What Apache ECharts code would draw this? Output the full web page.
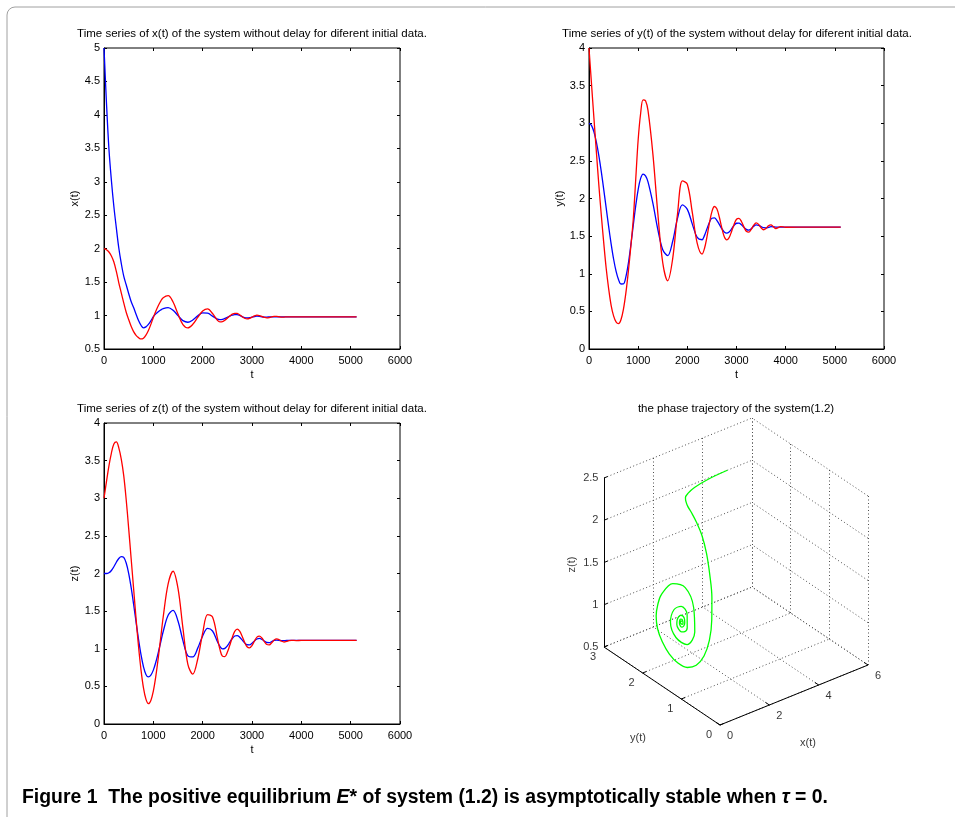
<!DOCTYPE html>
<html><head><meta charset="utf-8">
<script src="https://cdn.jsdelivr.net/npm/echarts@6/dist/echarts.min.js"></script>
<style>html,body{margin:0;padding:0;background:#fff}#c{width:955px;height:817px}</style>
</head><body><div id="c"></div>
<script>
// ---- data ----
const T = [0,50,100,150,200,250,300,350,400,450,500,550,600,650,700,750,800,850,900,950,1000,1050,1100,1150,1200,
  1300,1400,1500,1600,1700,1800,1900,2000,2100,2200,2300,
  2350,2400,2450,2500,2550,2600,2650,2700,2750,2800,2850,2900,2950,3000,3050,3100,3150,3200,3250,3300,3350,3400,3450,3500,3550,3600,3650,3700,3750,3800,
  3900,4000,4500,5120];

const xRed = [2.0,1.985,1.95,1.89,1.80,1.66,1.49,1.34,1.19,1.05,0.94,0.84,0.76,0.705,0.67,0.65,0.662,0.706,0.776,0.868,0.972,1.065,1.147,1.217,1.267,
  1.298,1.202,1.023,0.865,0.816,0.869,0.972,1.067,1.10,1.031,0.928,
  0.906,0.910,0.930,0.961,0.994,1.021,1.034,1.031,1.011,0.983,0.960,0.950,0.957,0.976,0.995,1.005,1.0,0.987,0.973,0.965,0.970,0.980,0.989,0.988,0.982,0.977,0.978,0.981,0.980,0.979,
  0.98,0.98,0.98,0.98];
const xBlue = [5.0,4.18,3.49,3.02,2.63,2.31,2.01,1.78,1.59,1.46,1.33,1.21,1.12,1.02,0.925,0.855,0.817,0.831,0.868,0.92,0.983,1.025,1.057,1.084,1.105,
  1.12,1.08,0.999,0.924,0.90,0.934,0.995,1.04,1.036,0.991,0.947,
  0.94,0.944,0.957,0.974,0.992,1.006,1.014,1.013,1.001,0.984,0.970,0.965,0.968,0.977,0.986,0.99,0.988,0.982,0.978,0.977,0.979,0.981,0.981,0.98,0.98,0.98,0.98,0.98,0.98,0.98,
  0.98,0.98,0.98,0.98];
const yRed = [4.0,3.53,3.07,2.62,2.18,1.78,1.41,1.07,0.80,0.58,0.44,0.36,0.336,0.388,0.527,0.745,1.028,1.359,1.72,2.25,2.78,3.13,3.31,3.30,3.17,
  2.587,1.80,1.146,0.907,1.192,1.794,2.233,2.19,1.819,1.408,1.262,
  1.339,1.493,1.676,1.825,1.894,1.863,1.754,1.612,1.495,1.45,1.481,1.562,1.656,1.724,1.737,1.695,1.623,1.564,1.552,1.590,1.645,1.675,1.656,1.612,1.585,1.601,1.637,1.65,1.626,1.601,
  1.625,1.618,1.62,1.62];
const yBlue = [3.0,2.971,2.886,2.75,2.571,2.357,2.119,1.871,1.626,1.398,1.196,1.036,0.924,0.864,0.865,0.959,1.136,1.375,1.641,1.901,2.119,2.268,2.325,2.30,2.221,
  1.936,1.588,1.32,1.242,1.425,1.735,1.916,1.855,1.663,1.483,1.452,
  1.51,1.599,1.685,1.738,1.742,1.71,1.657,1.60,1.556,1.54,1.556,1.596,1.641,1.671,1.673,1.65,1.617,1.59,1.58,1.599,1.631,1.65,1.643,1.627,1.612,1.61,1.616,1.625,1.624,1.62,
  1.62,1.62,1.62,1.62];
const zRed = [3.0,3.22,3.43,3.6,3.72,3.748,3.67,3.52,3.3,2.98,2.6,2.2,1.8,1.4,1.03,0.72,0.48,0.33,0.27,0.313,0.438,0.633,0.878,1.15,1.422,
  1.862,2.03,1.802,1.274,0.792,0.663,0.864,1.206,1.453,1.423,1.136,
  0.991,0.902,0.896,0.952,1.047,1.15,1.23,1.26,1.234,1.167,1.087,1.027,1.011,1.043,1.103,1.155,1.169,1.143,1.095,1.057,1.052,1.08,1.115,1.13,1.12,1.10,1.09,1.098,1.108,1.112,
  1.109,1.11,1.11,1.11];
const zBlue = [2.0,2.0,2.01,2.04,2.09,2.15,2.2,2.225,2.214,2.14,2.003,1.815,1.592,1.355,1.125,0.921,0.761,0.659,0.625,0.649,0.716,0.82,0.949,1.09,1.229,
  1.445,1.51,1.369,1.108,0.906,0.891,1.008,1.17,1.27,1.236,1.093,
  1.03,0.998,1.005,1.039,1.088,1.136,1.169,1.175,1.154,1.117,1.078,1.053,1.052,1.073,1.104,1.129,1.137,1.125,1.102,1.083,1.081,1.095,1.11,1.115,1.112,1.107,1.108,1.11,1.11,1.11,
  1.11,1.11,1.11,1.11];

const phaseXTicks = [0, 2, 4, 6];
const phaseYTicks = [0, 1, 2, 3];
const phaseZTicks = [0.5, 1, 1.5, 2, 2.5];

const titles = [
  'Time series of x(t) of the system without delay for diferent initial data.',
  'Time series of y(t) of the system without delay for diferent initial data.',
  'Time series of z(t) of the system without delay for diferent initial data.',
  'the phase trajectory of the system(1.2)'
];
const yNames = ['x(t)', 'y(t)', 'z(t)'];

// ---- layout / style ----
const FONT = "'Liberation Sans', Arial, Helvetica, sans-serif";
const RED = '#ff0000', BLUE = '#0000ff', GREEN = '#00ff00';
const grids2d = [
  {left:104, top:48, width:296, height:301},
  {left:589, top:48, width:295, height:301},
  {left:104, top:423, width:296, height:301}
];
const yRanges = [{min:0.5, max:5}, {min:0, max:4}, {min:0, max:4}];
const G4 = {left:540, top:400, width:400, height:360};
// projection of the 3-D box (pixel units inside grid 4)
const ORIGIN = [180, 325];
const UX = [24.67, -10], UY = [-38.67, -26], UZ = [0, -84.5];
const X0 = phaseXTicks[0], X1 = phaseXTicks[phaseXTicks.length-1];
const Y0 = phaseYTicks[0], Y1 = phaseYTicks[phaseYTicks.length-1];
const Z0 = phaseZTicks[0], Z1 = phaseZTicks[phaseZTicks.length-1];
function proj(x, y, z) {
  return [ORIGIN[0] + UX[0]*x + UY[0]*y + UZ[0]*(z - Z0),
          ORIGIN[1] + UX[1]*x + UY[1]*y + UZ[1]*(z - Z0)];
}
function add(p, d) { return [p[0] + d[0], p[1] + d[1]]; }

const axisText = {color:'#000', fontSize:11, fontFamily:FONT};
const fmt = v => String(v);
const grid = [], xAxis = [], yAxis = [], series = [];
grids2d.forEach((g, i) => {
  grid.push(Object.assign({show:true, borderColor:'#000', borderWidth:1, backgroundColor:'#fff'}, g));
  const tick = () => ({show:true, inside:true, length:3, lineStyle:{color:'#000', width:1}});
  xAxis.push({gridIndex:i, type:'value', min:0, max:6000, interval:1000, position:'bottom',
    name:'t', nameLocation:'middle', nameGap:20, nameTextStyle:axisText,
    axisLine:{show:true, onZero:false, lineStyle:{color:'#000', width:1}}, axisTick:tick(),
    axisLabel:Object.assign({margin:6, formatter:fmt}, axisText), splitLine:{show:false}});
  xAxis.push({gridIndex:i, type:'value', min:0, max:6000, interval:1000, position:'top',
    axisLine:{show:false, onZero:false}, axisTick:tick(), axisLabel:{show:false}, splitLine:{show:false}});
  yAxis.push({gridIndex:i, type:'value', min:yRanges[i].min, max:yRanges[i].max, interval:0.5, position:'left',
    name:yNames[i], nameLocation:'middle', nameGap:24, nameRotate:90, nameTextStyle:axisText,
    axisLine:{show:true, onZero:false, lineStyle:{color:'#000', width:1}}, axisTick:tick(),
    axisLabel:Object.assign({margin:4, formatter:fmt}, axisText), splitLine:{show:false}});
  yAxis.push({gridIndex:i, type:'value', min:yRanges[i].min, max:yRanges[i].max, interval:0.5, position:'right',
    axisLine:{show:false, onZero:false}, axisTick:tick(), axisLabel:{show:false}, splitLine:{show:false}});
});
grid.push(Object.assign({show:false}, G4));
xAxis.push({gridIndex:3, type:'value', min:0, max:G4.width, show:false});
yAxis.push({gridIndex:3, type:'value', min:0, max:G4.height, inverse:true, show:false});

const pairs = [[xBlue, xRed], [yBlue, yRed], [zBlue, zRed]];
pairs.forEach((p, i) => {
  [[p[0], BLUE], [p[1], RED]].forEach(([arr, col]) => {
    series.push({type:'line', xAxisIndex:2*i, yAxisIndex:2*i, data:T.map((t, k) => [t, arr[k]]),
      smooth:0.35, showSymbol:false, symbol:'none', silent:true, animation:false,
      lineStyle:{color:col, width:1.3}, itemStyle:{color:col}});
  });
});

// 3-D box grid lines
const gridSegs = [];
phaseXTicks.forEach(x => { gridSegs.push([proj(x,Y0,Z0), proj(x,Y1,Z0)]); gridSegs.push([proj(x,Y1,Z0), proj(x,Y1,Z1)]); });
phaseYTicks.forEach(y => { gridSegs.push([proj(X0,y,Z0), proj(X1,y,Z0)]); gridSegs.push([proj(X1,y,Z0), proj(X1,y,Z1)]); });
phaseZTicks.forEach(z => { gridSegs.push([proj(X0,Y1,z), proj(X1,Y1,z)]); gridSegs.push([proj(X1,Y0,z), proj(X1,Y1,z)]); });
series.push({type:'lines', coordinateSystem:'cartesian2d', xAxisIndex:6, yAxisIndex:6, silent:true, animation:false,
  data:gridSegs.map(s => ({coords:s})), lineStyle:{color:'#505050', width:1, type:[1,2.5], opacity:1}});
// solid axes + ticks
const axisSegs = [
  [proj(X0,Y1,Z0), proj(X0,Y1,Z1)],
  [proj(X0,Y0,Z0), proj(X0,Y1,Z0)],
  [proj(X0,Y0,Z0), proj(X1,Y0,Z0)]
];
phaseZTicks.forEach(z => axisSegs.push([proj(X0,Y1,z), proj(X0+0.15,Y1,z)]));
phaseYTicks.forEach(y => axisSegs.push([proj(X0,y,Z0), proj(X0+0.15,y,Z0)]));
phaseXTicks.forEach(x => axisSegs.push([proj(x,Y0,Z0), proj(x,Y0+0.1,Z0)]));
series.push({type:'lines', coordinateSystem:'cartesian2d', xAxisIndex:6, yAxisIndex:6, silent:true, animation:false,
  data:axisSegs.map(s => ({coords:s})), lineStyle:{color:'#000', width:1, opacity:1}});
// phase trajectory of the blue solution
series.push({type:'line', xAxisIndex:6, yAxisIndex:6, data:T.map((t, k) => proj(xBlue[k], yBlue[k], zBlue[k])),
  smooth:0.35, showSymbol:false, symbol:'none', silent:true, animation:false,
  lineStyle:{color:GREEN, width:1.3}});
// 3-D tick labels and axis names
function labelSeries(items, extra) {
  return {type:'scatter', xAxisIndex:6, yAxisIndex:6, symbolSize:1, silent:true, animation:false,
    itemStyle:{color:'rgba(0,0,0,0)'},
    label:Object.assign({show:true, formatter:p => p.name, position:'inside', align:'center', verticalAlign:'middle'}, axisText, extra),
    data:items};
}
series.push(labelSeries(phaseZTicks.map(z => ({name:String(z), value:proj(X0,Y1,z)})), {position:'left', distance:5, align:'right'}));
series.push(labelSeries(phaseYTicks.map(y => ({name:String(y), value:add(proj(X0,y,Z0), [-11,10])})), {}));
series.push(labelSeries(phaseXTicks.map(x => ({name:String(x), value:add(proj(x,Y0,Z0), [10,11])})), {}));
series.push(labelSeries([{name:'z(t)', value:add(proj(X0,Y1,(Z0+Z1)/2), [-32,2])}], {rotate:90}));
series.push(labelSeries([{name:'y(t)', value:add(proj(X0,(Y0+Y1)/2,Z0), [-24,52])}], {}));
series.push(labelSeries([{name:'x(t)', value:add(proj((X0+X1)/2,Y0,Z0), [14,48])}], {}));

const titleStyle = {fontSize:11.5, fontWeight:'normal', color:'#000', fontFamily:FONT};
const title = [
  {text:titles[0], left:252, top:28, padding:0, textAlign:'center', textStyle:titleStyle},
  {text:titles[1], left:737, top:28, padding:0, textAlign:'center', textStyle:titleStyle},
  {text:titles[2], left:252, top:403, padding:0, textAlign:'center', textStyle:titleStyle},
  {text:titles[3], left:736, top:403, padding:0, textAlign:'center', textStyle:titleStyle},
  {text:'Figure 1  The positive equilibrium {i|E}* of system (1.2) is asymptotically stable when {i|\u03c4} = 0.',
   left:22, top:788, padding:0,
   textStyle:{fontSize:19.4, fontWeight:'bold', color:'#000', fontFamily:FONT,
     rich:{i:{fontSize:19.4, fontWeight:'bold', fontStyle:'italic', color:'#000', fontFamily:FONT}}}}
];

const chart = echarts.init(document.getElementById('c'), null, {renderer:'canvas'});
chart.setOption({
  animation:false, backgroundColor:'#fff',
  title, grid, xAxis, yAxis, series,
  graphic:[{type:'rect', silent:true, z:-10, shape:{x:7, y:7, width:970, height:830, r:8},
    style:{fill:'none', stroke:'#a0a0a0', lineWidth:1}}]
});
</script></body></html>
